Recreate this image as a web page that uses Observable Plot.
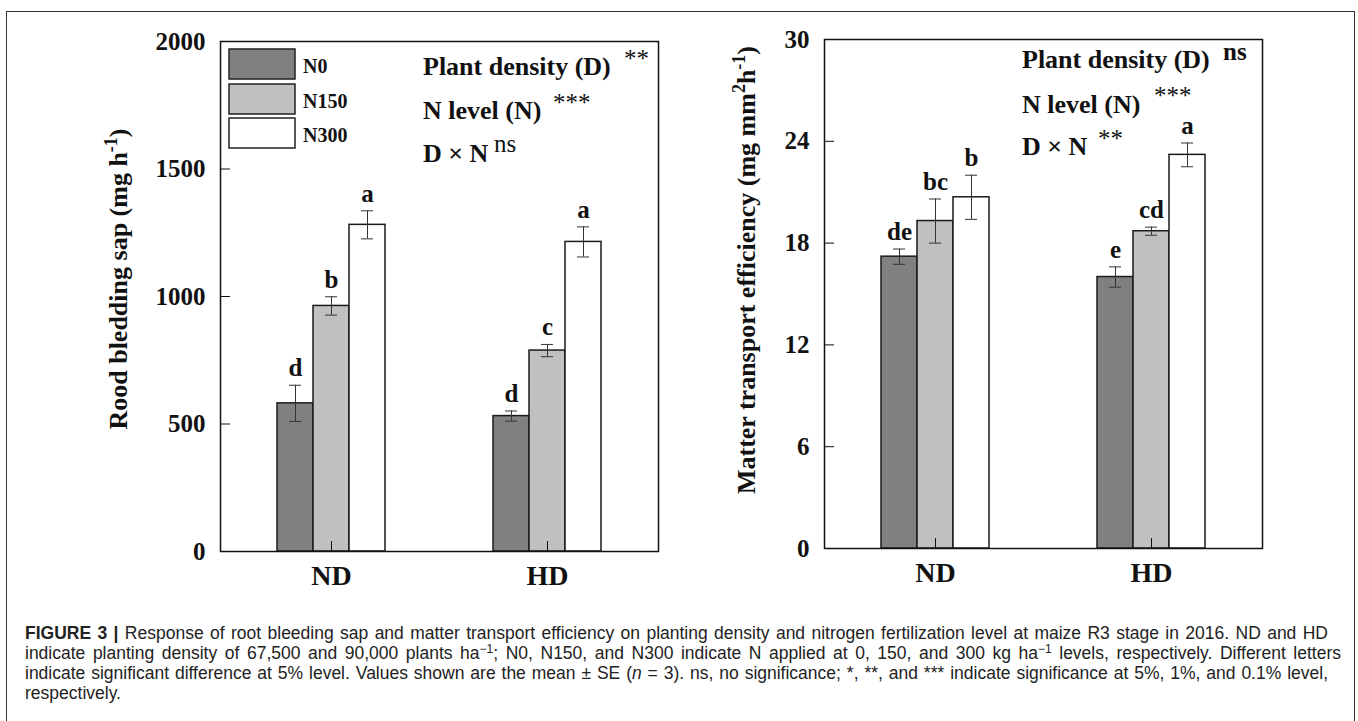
<!DOCTYPE html>
<html>
<head>
<meta charset="utf-8">
<script src="https://cdn.jsdelivr.net/npm/d3@7"></script>
<script src="https://cdn.jsdelivr.net/npm/@observablehq/plot@0.6"></script>
<style>
  html, body { margin: 0; padding: 0; background: #fff; }
  body { width: 1358px; height: 721px; overflow: hidden; position: relative; }
  #box { position: absolute; left: 6px; top: 11px; width: 1349px; height: 730px; border: 1.5px solid #333; box-sizing: border-box; }
  .panel { position: absolute; top: 0; }
  #overlay { position: absolute; left: 0; top: 0; pointer-events: none; }
  #caption { position: absolute; left: 25px; top: 623px; width: 1330px; font-family: "Liberation Sans", Arial, Helvetica, sans-serif; font-size: 17.5px; line-height: 20px; color: #222; }
  #caption .ln { white-space: nowrap; }
  #caption .ln span.t { display: inline-block; white-space: nowrap; }
  #caption b { font-weight: bold; }
  #caption sup { font-size: 12px; line-height: 0; vertical-align: 6px; }
</style>
</head>
<body>
<div id="box"></div>
<div id="left" class="panel" style="left:0px"></div>
<div id="right" class="panel" style="left:680px"></div>
<svg id="overlay" width="1358" height="721"></svg>
<div id="caption">
  <div class="ln" data-right="1328"><span class="t"><b>FIGURE 3 |</b> Response of root bleeding sap and matter transport efficiency on planting density and nitrogen fertilization level at maize R3 stage in 2016. ND and HD</span></div>
  <div class="ln" data-right="1341"><span class="t">indicate planting density of 67,500 and 90,000 plants ha<sup>−1</sup>; N0, N150, and N300 indicate N applied at 0, 150, and 300 kg ha<sup>−1</sup> levels, respectively. Different letters</span></div>
  <div class="ln" data-right="1328"><span class="t">indicate significant difference at 5% level. Values shown are the mean ± SE (<i>n</i> = 3). ns, no significance; *, **, and *** indicate significance at 5%, 1%, and 0.1% level,</span></div>
  <div class="ln"><span class="t">respectively.</span></div>
</div>
<script>
// ---------------- data ----------------
const densities = ["ND", "HD"];
const levels = ["N0", "N150", "N300"];
const levelFills = ["#808080", "#c0c0c0", "#ffffff"];

// Left panel: root bleeding sap (mg h-1)
const sapMeanND = [581, 963, 1281];
const sapMeanHD = [531, 788, 1214];
const sapSeND = [71, 36, 55];
const sapSeHD = [20, 24, 59];
const sapLetterND = ["d", "b", "a"];
const sapLetterHD = ["d", "c", "a"];
const sapTicks = [0, 500, 1000, 1500, 2000];

// Right panel: matter transport efficiency (mg mm2 h-1)
const effMeanND = [17.2, 19.3, 20.7];
const effMeanHD = [16.0, 18.7, 23.2];
const effSeND = [0.45, 1.3, 1.3];
const effSeHD = [0.6, 0.24, 0.7];
const effLetterND = ["de", "bc", "b"];
const effLetterHD = ["e", "cd", "a"];
const effTicks = [0, 6, 12, 18, 24, 30];

// significance annotations
const sapSig = [["Plant density (D)", "**"], ["N level (N)", "***"], ["D \u00d7 N", "ns"]];
const effSig = [["Plant density (D)", "ns"], ["N level (N)", "***"], ["D \u00d7 N", "**"]];

// ---------------- build ----------------
function rows(means, ses, letters) {
  return densities.flatMap((d, i) => levels.map((l, j) => ({
    density: d, level: l, key: d + " " + l,
    mean: means[i][j], se: ses[i][j], letter: letters[i][j]
  })));
}
const spacers = ["gap 1", "gap 2", "gap 3"];
const xDomain = densities.flatMap((d, i) => [...(i ? spacers : []), ...levels.map(l => d + " " + l)]);

const serif = '"Liberation Serif", "Times New Roman", Times, serif';

function chart({data, yMax, ticks, width, height, margins}) {
  return Plot.plot({
    width, height, ...margins,
    style: {fontFamily: serif, fontWeight: "bold", fontSize: "25px", color: "#111", background: "transparent"},
    x: {type: "band", domain: xDomain, paddingInner: 0, paddingOuter: 1.5},
    y: {domain: [0, yMax]},
    color: {domain: levels, range: levelFills},
    marks: [
      Plot.barY(data, {x: "key", y: "mean", fill: "level", stroke: "#1a1a1a", strokeWidth: 1.5}),
      Plot.ruleX(data, {x: "key", y1: d => d.mean - d.se, y2: d => d.mean + d.se, stroke: "#333", strokeWidth: 1}),
      Plot.tickY(data, {x: "key", y: d => d.mean + d.se, stroke: "#333", strokeWidth: 1, insetLeft: 12, insetRight: 12}),
      Plot.tickY(data, {x: "key", y: d => d.mean - d.se, stroke: "#333", strokeWidth: 1, insetLeft: 12, insetRight: 12}),
      Plot.text(data, {x: "key", y: d => d.mean + d.se, text: "letter", dy: -9, lineAnchor: "bottom", fontSize: 25, fontWeight: "bold", fill: "#111"}),
      Plot.axisY({ticks, tickSize: -10, tickPadding: 25, tickFormat: d => String(d), label: null, fontSize: 25, stroke: "#111"}),
      Plot.axisX({ticks: densities.map(d => d + " " + levels[1]), tickSize: -10, tickPadding: 24, tickFormat: k => k.split(" ")[0], label: null, fontSize: 28, stroke: "#111"}),
      Plot.frame({stroke: "#111", strokeWidth: 1.5})
    ]
  });
}

document.getElementById("left").append(chart({
  data: rows([sapMeanND, sapMeanHD], [sapSeND, sapSeHD], [sapLetterND, sapLetterHD]),
  yMax: 2000, ticks: sapTicks, width: 680, height: 600,
  margins: {marginLeft: 220, marginRight: 22, marginTop: 41, marginBottom: 49}
}));
document.getElementById("right").append(chart({
  data: rows([effMeanND, effMeanHD], [effSeND, effSeHD], [effLetterND, effLetterHD]),
  yMax: 30, ticks: effTicks, width: 678, height: 600,
  margins: {marginLeft: 144, marginRight: 96, marginTop: 39, marginBottom: 52}
}));

// ---------------- overlay text: axis titles, legend, significance ----------------
const ov = d3.select("#overlay").style("font-family", serif).attr("fill", "#111");

function yTitle(cx, cy, parts) {
  const t = ov.append("text")
    .attr("transform", `translate(${cx},${cy}) rotate(-90)`)
    .attr("text-anchor", "middle").attr("font-weight", "bold").attr("font-size", 26);
  let shift = 0;
  for (const [s, sup] of parts) {
    const dy = sup ? -10 - shift : -shift;
    t.append("tspan").attr("dy", dy).attr("font-size", sup ? 18 : 26).text(s);
    shift = sup ? -10 : 0;
  }
}
yTitle(127, 279, [["Rood bledding sap (mg h", false], ["-1", true], [")", false]]);
yTitle(755, 270, [["Matter transport efficiency (mg mm", false], ["2", true], ["h", false], ["-1", true], [")", false]]);

// legend
const legY = [49, 84, 118];
levels.forEach((l, i) => {
  ov.append("rect").attr("x", 229).attr("y", legY[i]).attr("width", 66).attr("height", 30)
    .attr("fill", levelFills[i]).attr("stroke", "#222").attr("stroke-width", 1.5);
  ov.append("text").attr("x", 303).attr("y", legY[i] + 24).attr("font-weight", "bold").attr("font-size", 20).text(l);
});

// significance lines
function sig(x, baselines, supX, supY, items, nsBold) {
  items.forEach(([label, mark], i) => {
    ov.append("text").attr("x", x).attr("y", baselines[i]).attr("font-weight", "bold").attr("font-size", 26).text(label);
    const isNs = mark === "ns";
    ov.append("text").attr("x", supX[i]).attr("y", supY[i])
      .attr("font-weight", isNs && nsBold ? "bold" : "normal")
      .attr("font-size", 25).text(mark);
  });
}
sig(423, [75, 119, 162], [624, 553, 494], [67, 111, 152], sapSig, false);
sig(1022, [68, 113, 155], [1223, 1154, 1098], [60, 104, 147], effSig, true);

// ---------------- caption: fit justified lines ----------------
function fitCaption() {
  document.querySelectorAll("#caption .ln").forEach(ln => {
    const right = +ln.dataset.right;
    if (!right) return;
    const span = ln.querySelector("span.t");
    span.style.wordSpacing = "0px";
    span.style.letterSpacing = "0px";
    const left = span.getBoundingClientRect().left;
    const w = span.getBoundingClientRect().width;
    const target = right - left;
    const nSpaces = (span.textContent.match(/ /g) || []).length;
    const diff = target - w;
    if (diff >= 0) {
      span.style.wordSpacing = (diff / nSpaces) + "px";
    } else {
      const nChars = span.textContent.length;
      span.style.letterSpacing = (diff / nChars) + "px";
    }
  });
}
fitCaption();
if (document.fonts && document.fonts.ready) document.fonts.ready.then(fitCaption);
</script>
</body>
</html>
